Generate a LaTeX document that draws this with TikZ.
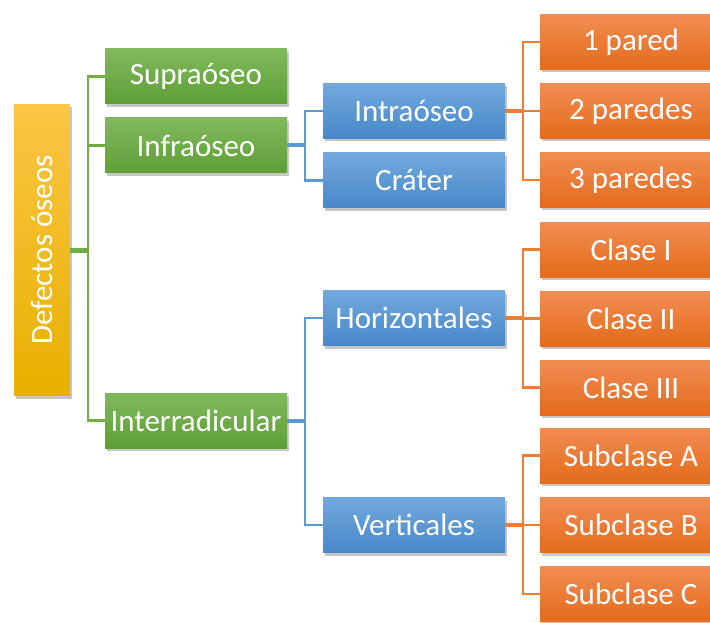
\documentclass[tikz,border=0pt]{standalone}
\usepackage{fontspec}
\setmainfont{Carlito}
\usetikzlibrary{shadows}

\definecolor{verdeA}{HTML}{7FBA5C}
\definecolor{verdeB}{HTML}{5E9E37}
\definecolor{azulA}{HTML}{72A9DE}
\definecolor{azulB}{HTML}{4887C8}
\definecolor{narA}{HTML}{F18D53}
\definecolor{narB}{HTML}{E46B1B}
\definecolor{amaA}{HTML}{FCC545}
\definecolor{amaB}{HTML}{E8B000}
\definecolor{lverde}{HTML}{70AD47}
\definecolor{lazul}{HTML}{5B9BD5}
\definecolor{lnar}{HTML}{ED7D31}

\tikzset{
  caja/.style={minimum width=182pt, minimum height=55pt, inner sep=0pt,
    text=white, font=\fontsize{31}{37}\selectfont,
    drop shadow={shadow xshift=2pt, shadow yshift=-3pt, opacity=0.45}},
  raiz/.style={caja, minimum width=56pt, minimum height=291pt, top color=amaA, bottom color=amaB},
  nivelA/.style={caja, top color=verdeA, bottom color=verdeB},
  nivelB/.style={caja, top color=azulA, bottom color=azulB},
  nivelC/.style={caja, top color=narA, bottom color=narB},
  rama/.style={line width=2.5pt},
}

\begin{document}
\begin{tikzpicture}[x=1pt, y=-1pt]

    \useasboundingbox (0,0) rectangle (710,623);

    \node [raiz] (defectos) at (42,250) {\rotatebox{90}{Defectos óseos}};

    \node [nivelA] (supra) at (196,76.5) {Supraóseo};
    \node [nivelA] (infra) at (196,145.5) {Infraóseo};
    \node [nivelA] (inter) at (196,420.5) {Interradicular};

    \node [nivelB] (intra) at (414,111) {Intraóseo};
    \node [nivelB] (crater) at (414,180.5) {Cráter};
    \node [nivelB] (horiz) at (414,318) {Horizontales};
    \node [nivelB] (vert) at (414,525) {Verticales};

    \node [nivelC] (p1) at (631,42) {1 pared};
    \node [nivelC] (p2) at (631,111) {2 paredes};
    \node [nivelC] (p3) at (631,180) {3 paredes};
    \node [nivelC] (c1) at (631,249.5) {Clase I};
    \node [nivelC] (c2) at (631,318.5) {Clase II};
    \node [nivelC] (c3) at (631,387.5) {Clase III};
    \node [nivelC] (sa) at (631,455.5) {Subclase A};
    \node [nivelC] (sb) at (631,525) {Subclase B};
    \node [nivelC] (sc) at (631,594) {Subclase C};

    % ramas verdes
    \coordinate (g) at (88,250);
    \draw [lverde, line width=5pt] (defectos.east) -- (g);
    \draw [lverde, rama] (supra.west) -- (supra.west -| g) -- (inter.west -| g) -- (inter.west);
    \draw [lverde, rama] (infra.west) -- (infra.west -| g);

    % ramas azules
    \coordinate (b1) at (305,145.5);
    \draw [lazul, line width=4pt] (infra.east) -- (b1);
    \draw [lazul, rama] (intra.west) -- (intra.west -| b1) -- (crater.west -| b1) -- (crater.west);
    \coordinate (b2) at (305,420.5);
    \draw [lazul, line width=4pt] (inter.east) -- (b2);
    \draw [lazul, rama] (horiz.west) -- (horiz.west -| b2) -- (vert.west -| b2) -- (vert.west);

    % ramas naranjas
    \coordinate (n1) at (523,111);
    \draw [lnar, line width=4pt] (intra.east) -- (n1);
    \draw [lnar, rama] (p1.west) -- (p1.west -| n1) -- (p3.west -| n1) -- (p3.west);
    \draw [lnar, rama] (p2.west) -- (n1);
    \coordinate (n2) at (523,318);
    \draw [lnar, line width=4pt] (horiz.east) -- (n2);
    \draw [lnar, rama] (c1.west) -- (c1.west -| n2) -- (c3.west -| n2) -- (c3.west);
    \draw [lnar, rama] (c2.west) -- (c2.west -| n2);
    \coordinate (n3) at (523,525);
    \draw [lnar, line width=4pt] (vert.east) -- (n3);
    \draw [lnar, rama] (sa.west) -- (sa.west -| n3) -- (sc.west -| n3) -- (sc.west);
    \draw [lnar, rama] (sb.west) -- (sb.west -| n3);

\end{tikzpicture}
\end{document}
